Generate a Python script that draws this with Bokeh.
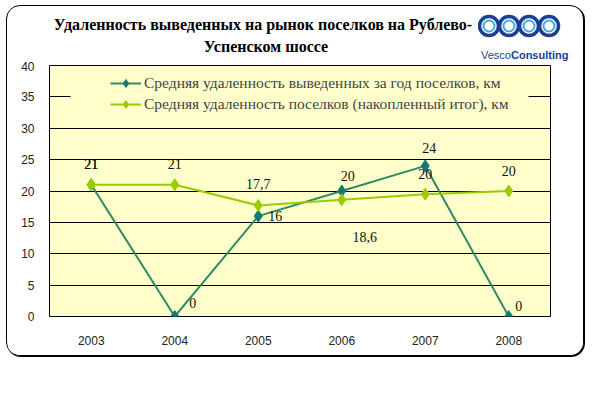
from bokeh.plotting import figure
from bokeh.models import FactorRange, Range1d, FixedTicker, Legend, LegendItem, BoxAnnotation, ColumnDataSource, Div
from bokeh.layouts import column
from bokeh.core.properties import value
from bokeh.embed import file_html
from bokeh.resources import INLINE

years = ["2003", "2004", "2005", "2006", "2007", "2008"]
annual = [21, 0, 16, 20, 24, 0]
cumulative = [21, 21, 17.7, 18.6, 19.5, 20]
annual_labels = ["21", "0", "16", "20", "24", "0"]
cumulative_labels = ["21", "21", "17,7", "18,6", "20", "20"]
series_names = ["Средняя удаленность выведенных за год поселков, км",
                "Средняя удаленность поселков (накопленный итог), км"]
y_ticks = [0, 5, 10, 15, 20, 25, 30, 35, 40]
title_lines = ["Удаленность выведенных на рынок поселков на Рублево-", "Успенском шоссе"]
logo_words = ["Vesco", "Consulting"]

# label placement (screen px offsets, positive dy = down)
annual_dx = [0, 18, 17, 6, 4, 10]
annual_dy = [-21, -14, 0, -15, -18, -11]
cum_dx = [0, 0, 0, 23, 0, 0]
cum_dy = [-21, -21, -21, 37, -20, -20]

# page geometry
OX, OY = 7, 6            # content origin inside the rounded frame
CW, CB = 576, 355         # content width, content bottom (page y)
HH = 55                   # header height
FL, FT, FR, FB = 49, 65, 550, 316  # plot-area edges on the page
FIG_TOP = OY + HH


def sx(x):
    return x - FL


def sy(y):
    return FB - y


p = figure(width=CW, height=CB - FIG_TOP, x_range=FactorRange(factors=years, range_padding=0),
           y_range=Range1d(0, 40), output_backend="svg", toolbar_location=None,
           min_border_left=FL - OX, min_border_right=OX + CW - FR, min_border_top=FT - FIG_TOP,
           min_border_bottom=CB - FB)
p.title = None
p.background_fill_color = "#FFFFCC"
p.border_fill_color = "white"
p.outline_line_color = "black"
p.outline_line_width = 1

p.xgrid.grid_line_color = None
p.ygrid.grid_line_color = "black"
p.ygrid.grid_line_width = 1
p.yaxis.ticker = FixedTicker(ticks=y_ticks)
for ax in (p.xaxis[0], p.yaxis[0]):
    ax.axis_line_color = None
    ax.major_tick_line_color = None
    ax.minor_tick_line_color = None
    ax.major_label_text_font = "Liberation Sans"
    ax.major_label_text_font_size = "12px"
    ax.major_label_text_color = "#222222"
p.yaxis.major_label_standoff = 9
p.xaxis.major_label_standoff = 13

c1_line, c1_mark = "#2E8B62", "#127777"
c2 = "#99CC00"

p.add_layout(BoxAnnotation(left=sx(70), right=sx(528), top=sy(66), bottom=sy(119),
                           left_units="screen", right_units="screen", top_units="screen",
                           bottom_units="screen", fill_color="#FFFFCC", fill_alpha=1,
                           line_color=None, level="annotation"))

l1 = p.line(years, annual, line_color=c1_line, line_width=2)
m1 = p.scatter(years, annual, marker="diamond", size=12, fill_color=c1_mark, line_color=c1_mark)
l2 = p.line(years, cumulative, line_color=c2, line_width=2)
m2 = p.scatter(years, cumulative, marker="diamond", size=12, fill_color=c2, line_color=c2)

s1 = ColumnDataSource(dict(x=years, y=annual, t=annual_labels, dx=annual_dx, dy=annual_dy))
s2 = ColumnDataSource(dict(x=years, y=cumulative, t=cumulative_labels, dx=cum_dx, dy=cum_dy))
for s in (s1, s2):
    p.text(x="x", y="y", text="t", x_offset="dx", y_offset="dy", source=s,
           text_font=value("Liberation Serif"), text_font_size="14px", text_color="#111111",
           text_align="center", text_baseline="middle")

legend = Legend(items=[LegendItem(label=series_names[0], renderers=[l1, m1]),
                       LegendItem(label=series_names[1], renderers=[l2, m2])],
                location=(sx(110), sy(114)), background_fill_color="#FFFFCC", background_fill_alpha=1,
                border_line_color=None, label_text_font="Liberation Serif",
                label_text_font_size="15.5px", glyph_width=31, glyph_height=20, spacing=1, padding=6,
                label_standoff=3, margin=0)
p.add_layout(legend, "center")


def pos(left, top):
    return f"position:absolute;left:{left - OX}px;top:{top - OY}px;"


rings = "".join(
    f'<circle cx="{cx}" cy="12" r="9.5" fill="none" stroke="#1B3F95" stroke-width="3.5"/>'
    f'<circle cx="{cx}" cy="12" r="5.5" fill="none" stroke="#3FA9E0" stroke-width="2"/>'
    for cx in (11, 31, 51, 71))
tstyle = ("text-align:center;font-family:'Liberation Serif';font-weight:bold;font-size:16px;"
          "line-height:18px;color:#000;white-space:nowrap;")
header_html = (
    f'<div style="position:relative;width:{CW}px;height:{HH}px;">'
    f'<div style="{pos(13, 16)}width:500px;{tstyle}">{title_lines[0]}</div>'
    f'<div style="{pos(116, 38)}width:300px;{tstyle}">{title_lines[1]}</div>'
    f'<svg style="{pos(478, 14)}" width="84" height="24">{rings}</svg>'
    f'<div style="{pos(481, 48)}font-family:\'Liberation Sans\';font-size:11px;line-height:14px;'
    f'color:#1B3F95;white-space:nowrap;">{logo_words[0]}<b>{logo_words[1]}</b></div>'
    f'</div>')
header = Div(text=header_html, width=CW, height=HH, margin=0)

layout = column(header, p, spacing=0,
                styles={"border": "1px solid black", "border-radius": "14px",
                        "box-shadow": "1px 1px 0 0 #000", "margin-left": f"{OX - 1}px",
                        "margin-top": f"{OY - 1}px", "background": "white", "overflow": "hidden"})

open("out.html", "w").write(file_html(layout, INLINE))
